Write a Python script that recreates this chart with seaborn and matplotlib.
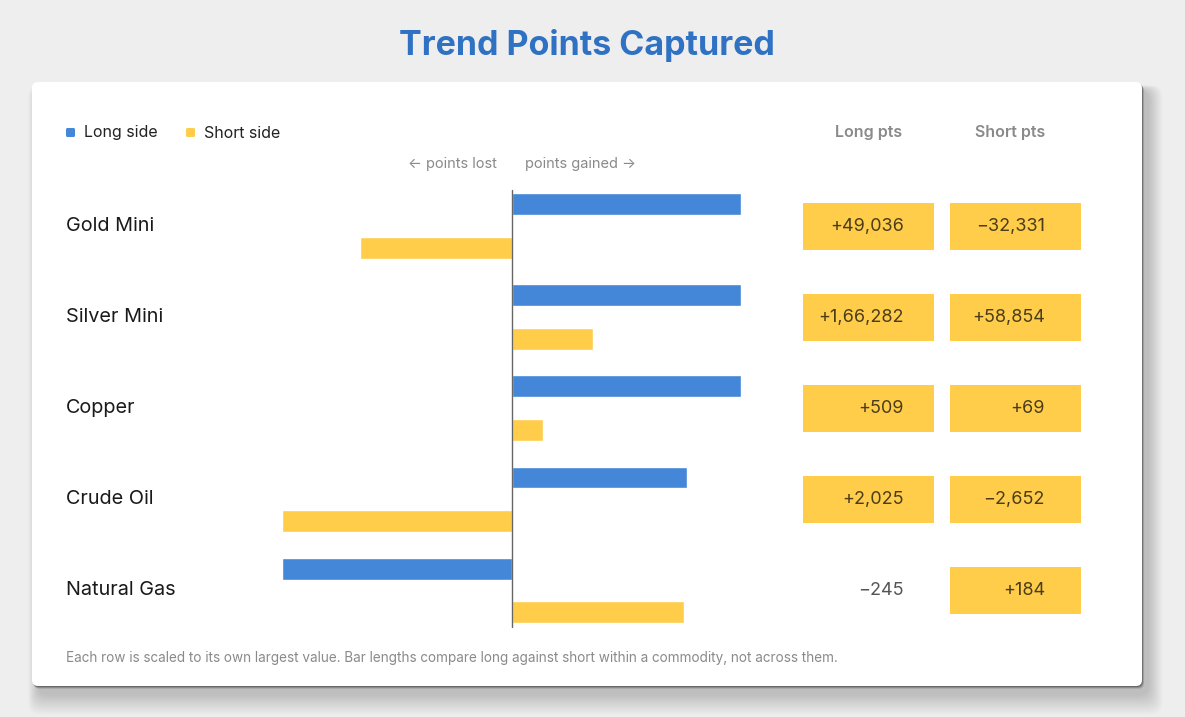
import matplotlib
matplotlib.use("Agg")
import matplotlib.pyplot as plt
from matplotlib.patches import FancyBboxPatch, Rectangle
import pandas as pd
import seaborn as sns

# data
commodities = ["Gold Mini", "Silver Mini", "Copper", "Crude Oil", "Natural Gas"]
long_pts = [49036, 166282, 509, 2025, -245]
short_pts = [-32331, 58854, 69, -2652, 184]
long_boxed = [True, True, True, True, False]
short_boxed = [True, True, True, True, True]

BLUE = "#4487d8"
YELLOW = "#ffcd4a"
W, H = 1185, 717

sns.set_theme(style="white")
plt.rcParams["font.family"] = ["Inter", "DejaVu Sans"]


# indian style grouping, e.g. 1,66,282
def fmt_pts(v):
    s = str(abs(int(v)))
    if len(s) > 3:
        head, tail = s[:-3], s[-3:]
        groups = []
        while len(head) > 2:
            groups.insert(0, head[-2:])
            head = head[:-2]
        if head:
            groups.insert(0, head)
        s = ",".join(groups + [tail])
    return ("+" if v >= 0 else "\u2212") + s


# each row scaled to its own largest absolute value
rows = []
for name, lv, sv in zip(commodities, long_pts, short_pts):
    m = max(abs(lv), abs(sv))
    rows.append({"commodity": name, "side": "Long", "scaled": lv / m})
    rows.append({"commodity": name, "side": "Short", "scaled": sv / m})
df = pd.DataFrame(rows)

fig = plt.figure(figsize=(W / 100, H / 100), dpi=100)
fig.patch.set_facecolor("#eeeeee")


def px_box(x0, y0, x1, y1):
    return [x0 / W, 1 - y1 / H, (x1 - x0) / W, (y1 - y0) / H]


# background axes in pixel coords: card, title, legend, notes
bg = fig.add_axes([0, 0, 1, 1])
bg.set_xlim(0, W)
bg.set_ylim(H, 0)
bg.axis("off")

# wide soft shadow
for k in range(16):
    g = 16 - k
    bg.add_patch(FancyBboxPatch((32 - g * 0.6 + 6, 82 + 8 - g * 0.3),
                                1110 + g * 1.5, 604 + g * 1.6,
                                boxstyle="round,pad=0,rounding_size=12",
                                fc="black", ec="none", alpha=0.012, zorder=1))
# tight dark edge shadow
for off, a in [(3, 0.10), (2, 0.18), (1, 0.25)]:
    bg.add_patch(FancyBboxPatch((32 + off * 0.7, 82 + off), 1110, 604,
                                boxstyle="round,pad=0,rounding_size=6",
                                fc="black", ec="none", alpha=a, zorder=1.5))
bg.add_patch(FancyBboxPatch((32, 82), 1110, 604,
                            boxstyle="round,pad=0,rounding_size=6",
                            fc="white", ec="none", zorder=2))

bg.text(587, 45, "Trend Points Captured", ha="center", va="center",
        fontsize=24.5, fontweight="bold", color="#2f72c4", zorder=3)

# legend
bg.add_patch(FancyBboxPatch((66, 128), 9, 9, boxstyle="round,pad=0,rounding_size=1.5",
                            fc=BLUE, ec="none", zorder=3))
bg.text(84, 133, "Long side", ha="left", va="center", fontsize=11.5, color="#222222", zorder=3)
bg.add_patch(FancyBboxPatch((186, 128), 9, 9, boxstyle="round,pad=0,rounding_size=1.5",
                            fc=YELLOW, ec="none", zorder=3))
bg.text(204, 133, "Short side", ha="left", va="center", fontsize=11.5, color="#222222", zorder=3)

bg.text(497, 164, "\u2190 points lost", ha="right", va="center", fontsize=10.5,
        color="#8a8a8a", zorder=3)
bg.text(525, 164, "points gained \u2192", ha="left", va="center", fontsize=10.5,
        color="#8a8a8a", zorder=3)

bg.text(869, 133, "Long pts", ha="center", va="center", fontsize=11.5,
        fontweight="semibold", color="#8a8a8a", zorder=3)
bg.text(1010, 133, "Short pts", ha="center", va="center", fontsize=11.5,
        fontweight="semibold", color="#8a8a8a", zorder=3)

bg.text(66, 658, "Each row is scaled to its own largest value. Bar lengths compare long "
        "against short within a commodity, not across them.",
        ha="left", va="center", fontsize=9.75, color="#8a8a8a", zorder=3)

# diverging bars
ax = fig.add_axes(px_box(282, 180.5, 741, 636))
ax.patch.set_alpha(0)
sns.barplot(data=df, y="commodity", x="scaled", hue="side", orient="h",
            palette={"Long": BLUE, "Short": YELLOW}, width=0.96, gap=0.5,
            saturation=1, legend=False, ax=ax)
ax.set_xlim(-1, 1)
ax.set_ylim(len(commodities) - 0.5, -0.5)
ax.plot([0, 0], [-0.4, len(commodities) - 0.6], color="#666666", lw=1, zorder=5)
ax.axis("off")

# labels and value table, sharing the bar rows
tab = fig.add_axes(px_box(0, 180.5, W, 636), sharey=ax)
tab.patch.set_alpha(0)
tab.set_xlim(0, W)
tab.axis("off")

for i, name in enumerate(commodities):
    tab.text(66, i, name, ha="left", va="center", fontsize=14.3, color="#1a1a1a")
    for x0, x_txt, val, boxed in [(803, 904, long_pts[i], long_boxed[i]),
                                  (950, 1045, short_pts[i], short_boxed[i])]:
        if boxed:
            tab.add_patch(Rectangle((x0, i - 0.258), 131, 0.516, fc=YELLOW, ec="none"))
        tab.text(x_txt, i, fmt_pts(val), ha="right", va="center", fontsize=13,
                 color="#4a3d1a" if boxed else "#555555")
ax.set_ylim(len(commodities) - 0.5, -0.5)

fig.savefig("out.png", dpi=100)
